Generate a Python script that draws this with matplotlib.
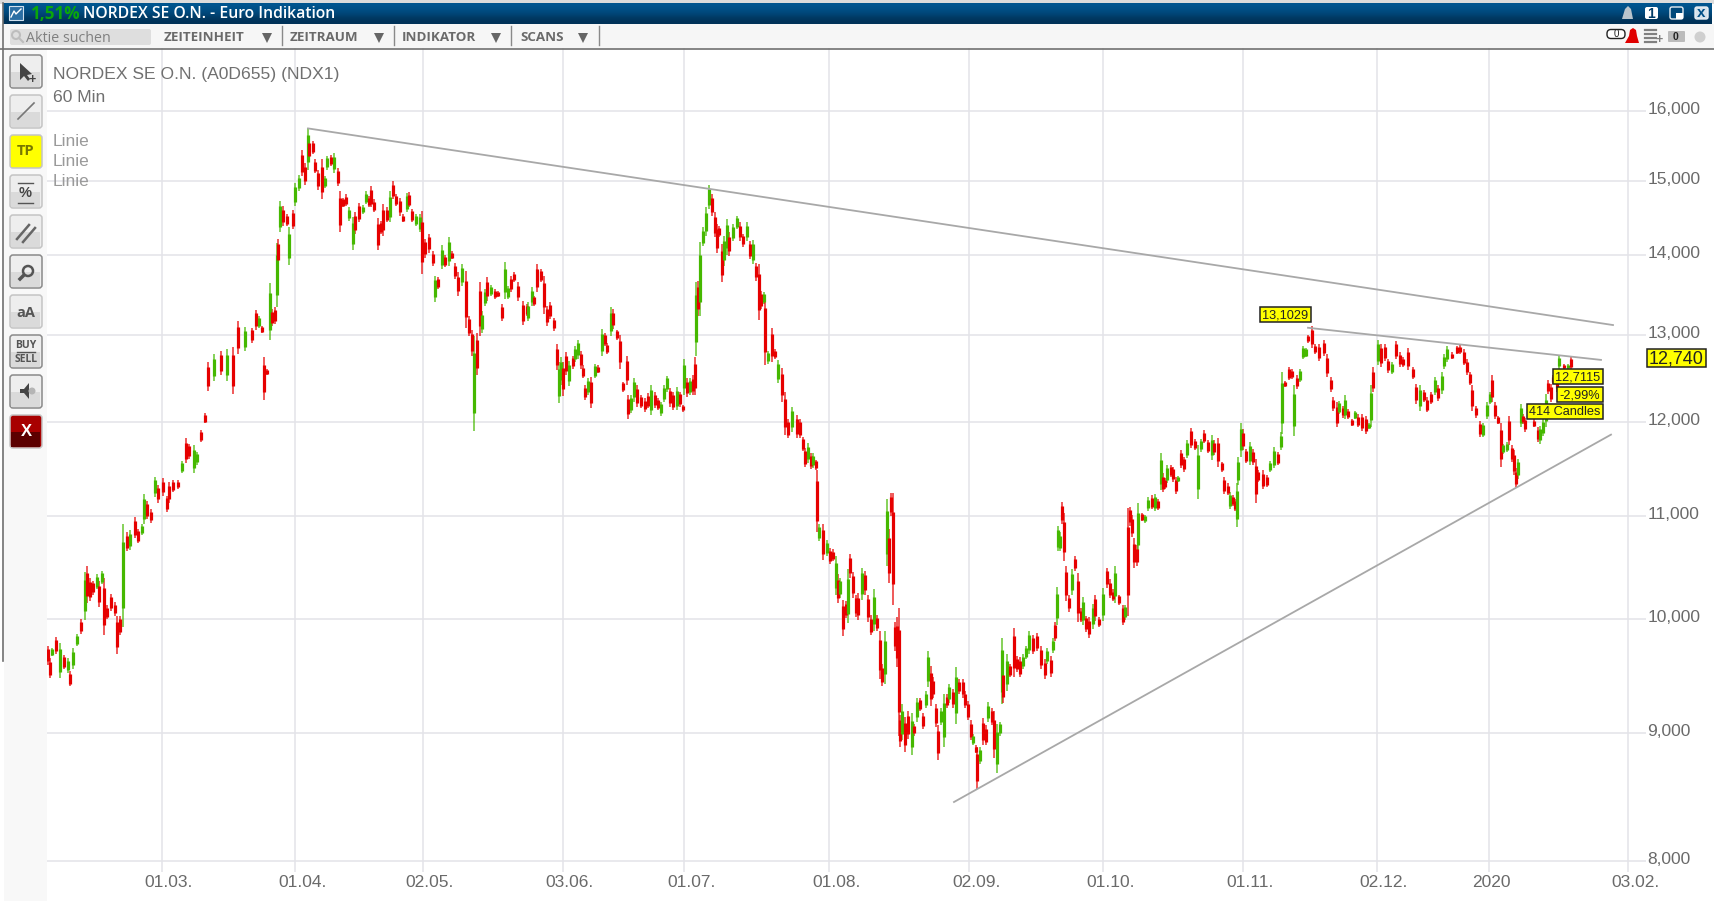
import matplotlib
matplotlib.use("Agg")
import matplotlib.pyplot as plt
import numpy as np
from matplotlib.patches import Rectangle, FancyBboxPatch, Polygon, Circle
from matplotlib.ticker import NullLocator
from matplotlib.transforms import ScaledTranslation

plt.rcParams["font.family"] = ["Liberation Sans", "DejaVu Sans"]

# chart values, x is the candle slot along the trading axis, y is the price
a_slot = [1, 3, 5, 9, 13, 17, 21, 23, 26, 30, 34, 38, 40, 43, 46, 50, 52, 55, 57, 60, 64, 68, 70, 73, 76, 80, 83, 88, 91, 95, 97, 100, 104, 108, 111, 116, 120, 122, 126, 131, 135, 139, 142, 147, 150, 154, 158]
a_low = [9590, 9470, 9665, 9686, 9470, 9550, 9520, 9400, 9550, 9754, 9870, 9990, 10152, 10170, 10232, 10280, 10115, 10328, 9856, 10003, 10080, 10035, 9686, 9856, 9930, 10648, 10664, 10776, 10728, 10808, 10920, 10968, 10936, 11195, 11140, 11212, 11042, 11140, 11247, 11283, 11443, 11549, 11602, 11443, 11538, 11780, 11985]
a_high = [9755, 9650, 9740, 9840, 9783, 9680, 9650, 9534, 9740, 9870, 10000, 10450, 10504, 10392, 10360, 10424, 10360, 10456, 10392, 10130, 10240, 10160, 10035, 10035, 10920, 10840, 10856, 10994, 10872, 10920, 11230, 11160, 11070, 11408, 11318, 11390, 11212, 11354, 11372, 11372, 11574, 11822, 11762, 11745, 11673, 11915, 12100]
a_up = [0, 0, 1, 0, 1, 0, 1, 0, 1, 1, 0, 1, 0, 0, 0, 1, 0, 1, 0, 0, 0, 0, 0, 0, 1, 0, 1, 0, 0, 1, 1, 0, 0, 1, 0, 0, 0, 0, 0, 0, 1, 0, 0, 1, 1, 0, 0]

b_slot = [161, 167, 174, 180, 186, 191, 198, 205, 209, 212, 215, 217, 220, 223, 225, 228, 230, 231, 233, 236, 240, 242, 246, 248, 252, 255, 258, 261, 262, 266, 268, 271, 275, 278, 280, 284, 287, 291, 293, 296, 299, 302, 306, 308, 312, 316, 319, 322, 324, 327, 331, 334, 336, 340, 343, 346, 349, 353, 356, 360, 362, 365, 369, 373, 375, 378, 382, 386, 388, 391, 395, 398, 402, 405, 408, 411, 415, 419, 422, 425, 427, 430, 433, 435, 438, 440, 444, 448, 451, 455, 458, 461, 464, 467, 471, 476, 480]
b_low = [12345, 12460, 12530, 12460, 12310, 12780, 12815, 12912, 13070, 13092, 13028, 12244, 12530, 12943, 13112, 13133, 13342, 13883, 14300, 14387, 14387, 13870, 14343, 14645, 14853, 15057, 14942, 15152, 15286, 15367, 15105, 14876, 14742, 14898, 15152, 15200, 15105, 14920, 14298, 14631, 14645, 14454, 14067, 14276, 14432, 14543, 14676, 14631, 14631, 14565, 14062, 14276, 14245, 14432, 14432, 14742, 14654, 14520, 14432, 14565, 14631, 14432, 14387, 14298, 13758, 13966, 14031, 13862, 13412, 13570, 13820, 13842, 13862, 13946, 13696, 13487, 13612, 13092, 12990, 12760, 11900, 12530, 12990, 13030, 13362, 13425, 13487, 13445, 13466, 13175, 13445, 13445, 13529, 13654, 13425, 13120, 13238]
b_high = [12690, 12780, 12815, 12840, 12860, 13175, 13100, 13092, 13312, 13237, 13112, 12740, 12606, 13646, 13320, 13342, 14155, 14209, 14720, 14645, 14543, 14365, 14600, 14964, 15080, 15430, 15248, 15748, 15580, 15557, 15295, 15152, 15295, 15057, 15343, 15352, 15381, 15176, 14853, 14765, 14809, 14631, 14498, 14565, 14698, 14662, 14853, 14787, 14920, 14742, 14485, 14454, 14680, 14631, 14853, 14987, 14809, 14765, 14543, 14831, 14840, 14610, 14543, 14543, 14587, 14209, 14276, 14053, 13737, 13716, 14129, 14008, 14232, 14053, 13904, 13779, 13883, 13800, 13238, 13071, 12990, 13030, 13663, 13300, 13570, 13716, 13625, 13570, 13550, 13383, 13912, 13612, 13737, 13779, 13654, 13425, 13383]
b_up = [0, 1, 0, 1, 0, 0, 1, 0, 0, 1, 0, 0, 0, 1, 0, 0, 1, 0, 1, 0, 0, 1, 0, 1, 1, 0, 0, 1, 0, 0, 0, 0, 0, 1, 1, 0, 1, 0, 0, 0, 0, 1, 1, 0, 0, 1, 1, 0, 0, 0, 0, 0, 0, 0, 1, 0, 0, 0, 0, 1, 0, 0, 1, 1, 0, 0, 0, 0, 1, 0, 1, 0, 1, 0, 0, 0, 1, 0, 0, 0, 1, 0, 0, 1, 1, 0, 1, 0, 0, 0, 1, 1, 0, 0, 0, 0, 0]

c_slot = [481, 485, 487, 490, 494, 497, 500, 503, 507, 510, 512, 514, 516, 519, 522, 526, 528, 531, 534, 536, 538, 541, 544, 548, 551, 555, 558, 560, 564, 566, 570, 573, 576, 580, 581, 584, 587, 590, 594, 598, 601, 604, 608, 611, 614, 617, 620, 623, 626, 630, 633, 636, 637, 640, 643, 646, 648, 649, 651, 653, 656, 659, 662, 665, 668, 670, 672, 675, 677, 680, 682, 686, 690, 693, 696, 700, 703, 706, 709, 712, 714, 717, 718, 721, 725, 728, 731, 735, 738, 741, 745, 750]
c_low = [13174, 13362, 13362, 13529, 13654, 13258, 13112, 13195, 13058, 12590, 12210, 12419, 12297, 12530, 12410, 12608, 12685, 12723, 12608, 12495, 12248, 12305, 12153, 12495, 12552, 12760, 12875, 12780, 12988, 13079, 12943, 12608, 12343, 12419, 12038, 12095, 12229, 12172, 12153, 12115, 12153, 12077, 12153, 12134, 12069, 12229, 12343, 12172, 12134, 12134, 12172, 12115, 12305, 12286, 12305, 12305, 12305, 12760, 13237, 13237, 14119, 14254, 14609, 14520, 14232, 14031, 14232, 13654, 13862, 14009, 13996, 14187, 14343, 14187, 14112, 14187, 13946, 13883, 13675, 13187, 13320, 13383, 12647, 12666, 12685, 12723, 12438, 12229, 11858, 11823, 11893, 11823]
c_high = [13404, 13591, 13487, 13883, 13821, 13737, 13362, 13412, 13216, 12893, 12685, 12742, 12685, 12800, 12700, 12760, 12875, 12943, 12818, 12647, 12419, 12495, 12514, 12666, 12647, 13079, 13029, 12913, 13341, 13320, 13071, 13008, 12457, 12760, 12305, 12305, 12503, 12419, 12305, 12267, 12324, 12419, 12343, 12267, 12229, 12419, 12526, 12381, 12343, 12400, 12343, 12191, 12723, 12495, 12495, 12533, 12742, 13654, 13675, 14175, 14365, 14631, 14942, 14809, 14565, 14409, 14387, 14143, 14254, 14476, 14298, 14409, 14520, 14431, 14276, 14431, 14187, 14200, 13904, 13883, 13550, 13529, 13487, 12818, 13092, 12837, 12704, 12616, 12343, 12038, 12171, 12076]
c_up = [1, 1, 0, 0, 0, 0, 0, 0, 0, 0, 1, 1, 0, 0, 1, 0, 1, 1, 0, 0, 0, 1, 0, 1, 0, 1, 0, 0, 1, 0, 0, 0, 0, 0, 0, 1, 1, 0, 0, 0, 0, 1, 0, 0, 1, 1, 1, 0, 0, 1, 0, 0, 1, 0, 1, 0, 0, 1, 0, 1, 1, 1, 1, 0, 0, 0, 0, 0, 1, 1, 0, 1, 1, 0, 0, 1, 0, 1, 0, 0, 0, 1, 0, 1, 0, 0, 1, 0, 0, 0, 1, 0]

d_slot = [753, 756, 758, 761, 764, 766, 769, 770, 772, 776, 780, 783, 786, 789, 791, 793, 796, 799, 801, 803, 806, 809, 811, 815, 818, 821, 824, 827, 830, 833, 835, 838, 840, 842, 844, 846, 848, 850, 852, 853, 855, 858, 861, 865, 867, 870, 873, 876, 879, 881, 884, 886, 889, 891, 894, 897, 900, 902, 906, 909, 912, 916, 918, 921, 924, 926, 929, 930, 933, 936, 939, 941, 945, 947, 950, 953, 955, 956, 960, 963, 967, 970, 973, 976, 979, 982, 986, 990, 994, 998, 1000, 1004, 1006, 1008]
d_low = [11822, 11680, 11509, 11555, 11495, 11502, 11484, 10837, 10747, 10562, 10603, 10523, 10555, 10232, 10152, 10200, 9851, 10008, 9962, 10392, 10200, 10024, 9991, 10184, 10232, 9977, 9853, 9889, 9889, 9464, 9405, 9420, 10504, 10344, 11000, 10136, 9713, 9566, 8980, 8890, 8942, 8850, 8955, 8824, 8982, 9097, 9185, 9039, 9215, 9390, 9229, 9303, 9054, 8785, 9068, 8890, 9215, 9259, 9215, 9082, 9332, 9303, 9215, 9112, 8942, 8903, 8837, 8550, 8745, 8903, 8903, 9097, 9068, 8800, 8680, 8982, 9244, 9259, 9361, 9478, 9478, 9522, 9478, 9552, 9640, 9684, 9684, 9713, 9552, 9464, 9596, 9478, 9698, 9800]
d_high = [12036, 11840, 11715, 11769, 11662, 11662, 11590, 11484, 10923, 10923, 10763, 10683, 10667, 10600, 10424, 10392, 10184, 10168, 10472, 10622, 10450, 10232, 10248, 10488, 10456, 10232, 10038, 10280, 10038, 9889, 9596, 9889, 11176, 10872, 11240, 11240, 9977, 10022, 10108, 9156, 9244, 9141, 9185, 9170, 9082, 9303, 9303, 9170, 9361, 9713, 9581, 9478, 9244, 9068, 9215, 9332, 9332, 9420, 9376, 9566, 9464, 9464, 9361, 9273, 9112, 8995, 8903, 8890, 8890, 9126, 9068, 9265, 9215, 9185, 9082, 9097, 9830, 9552, 9684, 9596, 9924, 9669, 9654, 9684, 9757, 9889, 9859, 9874, 9757, 9640, 9742, 9669, 9830, 9977]
d_up = [0, 0, 0, 1, 0, 1, 0, 0, 1, 0, 1, 0, 0, 1, 0, 1, 0, 0, 1, 0, 0, 0, 0, 1, 0, 0, 0, 1, 0, 0, 0, 1, 1, 0, 0, 0, 0, 0, 0, 0, 1, 0, 0, 1, 0, 1, 0, 0, 1, 1, 0, 0, 0, 0, 1, 1, 0, 1, 0, 1, 0, 0, 0, 0, 0, 1, 0, 0, 1, 0, 0, 1, 0, 0, 1, 1, 1, 0, 1, 0, 0, 0, 0, 1, 1, 1, 0, 0, 0, 0, 1, 0, 1, 0]

e_slot = [1010, 1011, 1013, 1015, 1017, 1019, 1022, 1025, 1028, 1031, 1034, 1036, 1039, 1042, 1046, 1048, 1052, 1056, 1060, 1063, 1066, 1068, 1072, 1076, 1078, 1081, 1083, 1085, 1087, 1090, 1091, 1095, 1098, 1101, 1105, 1108, 1111, 1114, 1116, 1118, 1120, 1124, 1126, 1129, 1131, 1134, 1137, 1140, 1144, 1148, 1151, 1154, 1157, 1161, 1165, 1167, 1171, 1175, 1177, 1181, 1183, 1186, 1188, 1190, 1191, 1194]
e_low = [9947, 10648, 10648, 10920, 10552, 10168, 10072, 10232, 10456, 9974, 9974, 9944, 9886, 9827, 9915, 9988, 9930, 9988, 10296, 10200, 10168, 10152, 10136, 9944, 9997, 10035, 10904, 10792, 10488, 10504, 10616, 10952, 10936, 11053, 11071, 11053, 11064, 11266, 11249, 11285, 11338, 11409, 11356, 11231, 11356, 11498, 11462, 11605, 11712, 11694, 11178, 11676, 11765, 11658, 11587, 11640, 11516, 11462, 11231, 11213, 11071, 11106, 11053, 10895, 11320, 11623]
e_high = [10304, 10904, 10840, 11150, 11032, 10504, 10232, 10472, 10600, 10440, 10104, 10206, 10035, 10019, 10147, 10232, 10019, 10296, 10488, 10376, 10280, 10504, 10232, 10136, 10136, 11080, 11096, 11016, 10776, 10712, 11130, 11032, 11016, 11196, 11213, 11231, 11178, 11658, 11445, 11391, 11534, 11534, 11516, 11409, 11420, 11694, 11623, 11801, 11936, 11818, 11747, 11818, 11907, 11801, 11854, 11801, 11826, 11569, 11409, 11338, 11249, 11213, 11178, 11338, 11623, 11990]
e_up = [1, 1, 1, 0, 0, 0, 0, 1, 0, 0, 0, 1, 0, 0, 1, 0, 0, 1, 0, 0, 0, 1, 0, 0, 1, 0, 0, 0, 0, 0, 1, 0, 1, 1, 0, 1, 0, 1, 0, 0, 1, 0, 0, 0, 1, 0, 0, 1, 0, 0, 1, 1, 0, 0, 1, 0, 0, 0, 0, 0, 1, 0, 0, 1, 1, 1]

f_slot = [1196, 1199, 1203, 1206, 1209, 1211, 1216, 1220, 1223, 1227, 1231, 1234, 1235, 1238, 1242, 1245, 1247, 1250, 1253, 1256, 1259, 1261, 1265, 1268, 1272, 1277, 1280, 1284, 1286, 1290, 1292, 1296, 1298, 1301, 1305, 1308, 1311, 1315, 1319, 1322, 1324, 1326, 1331, 1334, 1338, 1341, 1345, 1349, 1353, 1356, 1361, 1366, 1369, 1373, 1377, 1380, 1384, 1388, 1391, 1395, 1397, 1400, 1405, 1410, 1413, 1417, 1420, 1423, 1425, 1429, 1433, 1436, 1440, 1443, 1445, 1448, 1451, 1454, 1456, 1460, 1462, 1465, 1467, 1469, 1471, 1474, 1476, 1478, 1487, 1491, 1493, 1496, 1499, 1501, 1504, 1506, 1510, 1512, 1517, 1521, 1524]
f_low = [11694, 11551, 11531, 11531, 11140, 11354, 11276, 11300, 11460, 11496, 11531, 11691, 11869, 12392, 12471, 12491, 11851, 12376, 12452, 12720, 12740, 12912, 12854, 12778, 12701, 12759, 12510, 12337, 12126, 11940, 12088, 12050, 12031, 12031, 11957, 12031, 11940, 11904, 11869, 11922, 11940, 12337, 12644, 12625, 12701, 12560, 12548, 12720, 12625, 12625, 12586, 12491, 12203, 12126, 12222, 12107, 12203, 12299, 12241, 12318, 12605, 12682, 12720, 12778, 12778, 12644, 12529, 12414, 12126, 12050, 11833, 11833, 12031, 12203, 12222, 12031, 11975, 11514, 11656, 11673, 11744, 11567, 11425, 11301, 11389, 11940, 11975, 11893, 11940, 11780, 11762, 11851, 11940, 12318, 12222, 12433, 12337, 12605, 12605, 12605, 12605]
f_high = [11925, 11709, 11780, 11709, 11602, 11478, 11478, 11425, 11574, 11727, 11673, 11886, 12563, 12468, 12625, 12605, 12414, 12529, 12605, 12874, 12854, 13008, 13113, 12893, 12893, 12943, 12778, 12510, 12280, 12222, 12241, 12184, 12299, 12146, 12031, 12126, 12088, 12088, 12069, 11993, 12414, 12625, 12950, 12893, 12893, 12720, 12682, 12931, 12797, 12740, 12854, 12625, 12433, 12414, 12357, 12280, 12337, 12510, 12414, 12567, 12778, 12874, 12797, 12874, 12881, 12835, 12720, 12567, 12414, 12184, 12011, 11993, 12222, 12337, 12529, 12222, 12069, 11993, 11762, 11780, 12069, 11744, 11691, 11496, 11602, 12203, 12088, 12050, 12031, 11940, 11957, 12031, 12318, 12471, 12433, 12529, 12605, 12766, 12663, 12663, 12751]
f_up = [0, 0, 1, 0, 0, 0, 0, 0, 1, 1, 0, 1, 1, 0, 0, 0, 1, 0, 1, 1, 1, 0, 0, 0, 0, 0, 0, 0, 0, 0, 1, 0, 1, 0, 0, 1, 0, 0, 0, 1, 1, 0, 1, 0, 0, 0, 1, 0, 0, 0, 0, 0, 0, 1, 0, 0, 0, 1, 0, 1, 1, 1, 0, 0, 0, 0, 0, 0, 0, 0, 0, 1, 1, 1, 0, 0, 0, 0, 1, 1, 0, 0, 0, 0, 1, 1, 0, 0, 0, 0, 1, 1, 1, 0, 0, 0, 0, 1, 0, 1, 0]

# hand drawn trend lines (start slot, end slot, start price, end price)
trend_slots = [[261, 1566], [1261, 1554], [907, 1564]]
trend_prices = [[15740, 13125], [13092, 12709], [8447, 11861]]

price_ticks = [8000, 9000, 10000, 11000, 12000, 13000, 14000, 15000, 16000]
price_labels = ["8,000", "9,000", "10,000", "11,000", "12,000", "13,000", "14,000", "15,000", "16,000"]
date_slots = [114.7, 248, 375.7, 515.7, 637, 782, 922, 1056, 1196, 1329.7, 1442, 1581]
date_labels = ["01.03.", "01.04.", "02.05.", "03.06.", "01.07.", "01.08.", "02.09.", "01.10.", "01.11.", "02.12.", "2020", "03.02."]

RED = "#e60000"
GREEN = "#45b800"
GRID = "#e3e3e8"
YELLOW = "#ffff00"
W, H = 1714, 901

fig = plt.figure(figsize=(W / 100, H / 100), dpi=100)
ax = fig.add_axes([47 / W, 1 - 872 / H, (1646 - 47) / W, (872 - 48) / H])

slots = np.array(a_slot + b_slot + c_slot + d_slot + e_slot + f_slot, dtype=float)
lows = np.array(a_low + b_low + c_low + d_low + e_low + f_low, dtype=float)
highs = np.array(a_high + b_high + c_high + d_high + e_high + f_high, dtype=float)
ups = a_up + b_up + c_up + d_up + e_up + f_up
colors = [GREEN if u else RED for u in ups]

ax.vlines(slots, lows, highs, colors=colors, linewidth=1.3, alpha=0.7, zorder=3)
ax.vlines(slots, lows + 0.18 * (highs - lows), highs - 0.18 * (highs - lows), colors=colors, linewidth=2.3, zorder=3)
for xs, ys in zip(trend_slots, trend_prices):
    ax.plot(xs, ys, color="#a8a8a8", linewidth=1.3, zorder=4)

ax.set_yscale("log")
ax.set_xlim(0, 1599)
ax.set_ylim(7918, 16954)
ax.yaxis.tick_right()
ax.yaxis.set_minor_locator(NullLocator())
ax.set_yticks(price_ticks)
ax.set_yticklabels(price_labels)
ax.set_xticks(date_slots)
ax.set_xticklabels(date_labels)
ax.tick_params(axis="both", length=0, labelsize=12.5, labelcolor="#6a6a6a")
ax.tick_params(axis="y", pad=1)
ax.tick_params(axis="x", pad=2)
for lbl in ax.get_xticklabels():
    lbl.set_ha("left")
    lbl.set_transform(lbl.get_transform() + ScaledTranslation(-0.17, 0, fig.dpi_scale_trans))
for lbl in ax.get_yticklabels():
    lbl.set_transform(lbl.get_transform() + ScaledTranslation(0, 0.03, fig.dpi_scale_trans))
ax.grid(True, color=GRID, linewidth=1.1)
ax.set_axisbelow(True)
for s in ax.spines.values():
    s.set_visible(False)

# window chrome and annotations, drawn in image pixel coordinates
ov = fig.add_axes([0, 0, 1, 1], zorder=5)
ov.set_xlim(0, W)
ov.set_ylim(H, 0)
ov.axis("off")
ov.patch.set_alpha(0)

ov.add_patch(Rectangle((0, 0), W, 4, fc="#dcdcdc", ec="none"))
shades = [(0, 85, 143), (0, 79, 134), (0, 70, 120), (0, 58, 100), (0, 50, 88)]
ov.imshow(np.array(shades, dtype=np.uint8)[:, None, :], extent=[3, W - 2, 24, 3], aspect="auto", interpolation="bilinear", zorder=1)
ov.set_xlim(0, W)
ov.set_ylim(H, 0)
ov.add_patch(Rectangle((0, 24), W, 24, fc="#f6f6f6", ec="none", zorder=1))
ov.plot([0, W], [48.5, 48.5], color="#707070", lw=1.2, zorder=2)
ov.add_patch(Rectangle((4, 49), 43, H - 49, fc="#f8f8f8", ec="none", zorder=1))
ov.plot([3, 3], [3, 661], color="#707070", lw=1.2, zorder=2)

# title bar
ov.add_patch(Rectangle((9, 6), 14, 14, fc="#2b6ea3", ec="#cfe0ee", lw=0.8, zorder=3))
ov.plot([11, 14, 16, 21], [17, 11, 14, 9], color="white", lw=1, zorder=4)
ov.text(30, 14, "1,51%", color="#0aa70a", fontsize=12.3, family="Open Sans", weight="bold", va="center", zorder=4)
ov.text(83, 14, "NORDEX SE O.N. - Euro Indikation", color="white", fontsize=11.3, family="Open Sans", weight="semibold", va="center", zorder=4)

# toolbar
ov.add_patch(FancyBboxPatch((10, 29), 141, 16, boxstyle="round,pad=0,rounding_size=2", fc="#dedede", ec="none", zorder=3))
ov.add_patch(Circle((16, 35), 4, fc="none", ec="#bdbdbd", lw=1.5, zorder=4))
ov.plot([19, 23], [38, 42], color="#bdbdbd", lw=1.5, zorder=4)
ov.text(26, 38, "Aktie suchen", color="#808080", fontsize=10.3, va="center", zorder=4, family="Open Sans")
menus = ["ZEITEINHEIT", "ZEITRAUM", "INDIKATOR", "SCANS"]
menu_x = [164, 290, 402, 520]
tri_x = [267, 379, 496, 583]
sep_x = [282, 394, 511, 599]
for name, mx, tx, sx in zip(menus, menu_x, tri_x, sep_x):
    ov.text(mx, 37.5, name, color="#6a6a6a", fontsize=9.6, family="Open Sans", weight="bold", va="center", zorder=4)
    ov.add_patch(Polygon([[tx - 5, 33], [tx + 5, 33], [tx, 43]], fc="#666666", ec="none", zorder=4))
    ov.plot([sx, sx], [26, 45], color="#8a8a8a", lw=1, zorder=4)

# window buttons at the right
ov.add_patch(Polygon([[1622, 19], [1625, 9], [1628, 6], [1631, 9], [1633, 19]], fc="#b9c4cc", ec="none", zorder=4))
ov.add_patch(FancyBboxPatch((1645, 7), 13, 12, boxstyle="round,pad=0,rounding_size=2", fc="white", ec="none", zorder=4))
ov.text(1651.5, 13.5, "1", color="#003b66", fontsize=10, weight="bold", ha="center", va="center", zorder=5)
ov.add_patch(FancyBboxPatch((1670, 7), 13, 12, boxstyle="round,pad=0,rounding_size=2", fc="#00487a", ec="#e8eef3", lw=1, zorder=4))
ov.add_patch(Rectangle((1676, 13), 7, 6, fc="white", ec="none", zorder=5))
ov.add_patch(FancyBboxPatch((1695, 7), 13, 12, boxstyle="round,pad=0,rounding_size=2", fc="#d5e2ec", ec="#e8eef3", lw=1, zorder=4))
ov.text(1701.5, 13, "x", color="#004f86", fontsize=11, weight="bold", ha="center", va="center", zorder=5)
ov.add_patch(FancyBboxPatch((1607, 29.5), 18, 9, boxstyle="round,pad=0,rounding_size=4", fc="white", ec="#222222", lw=1, zorder=4))
ov.text(1616, 34, "0", color="#222222", fontsize=7, ha="center", va="center", zorder=5)
ov.add_patch(Polygon([[1625, 43], [1629, 36], [1630, 30], [1633, 28], [1636, 30], [1637, 36], [1639, 43]], fc="#e00000", ec="none", zorder=4))
for yy in [30, 34, 38, 42]:
    ov.plot([1645, 1656], [yy, yy], color="#808080", lw=1.6, zorder=4)
ov.text(1659, 40, "+", color="#808080", fontsize=9, weight="bold", ha="center", va="center", zorder=4)
ov.add_patch(FancyBboxPatch((1668, 31), 17, 11, boxstyle="round,pad=0,rounding_size=1", fc="#bbbbbb", ec="none", zorder=4))
ov.text(1676, 36.5, "0", color="#222222", fontsize=7.5, weight="bold", ha="center", va="center", zorder=5)
ov.add_patch(Circle((1700, 37), 5.5, fc="#cfcfcf", ec="none", zorder=4))

# left tool buttons
button_y = [55, 95, 135, 175, 215, 255, 295, 335, 375, 415]
for i, by in enumerate(button_y):
    top, low = "#eeeeee", "#dadada"
    if i == 2:
        top, low = YELLOW, YELLOW
    if i == 9:
        top, low = "#a80000", "#5c0000"
    ov.add_patch(FancyBboxPatch((10, by), 32, 33, boxstyle="round,pad=0,rounding_size=3", fc=top, ec="#8a8a8a" if i in (0, 5, 7, 8) else "#c4c4c4", lw=1.1, zorder=3))
    ov.add_patch(Rectangle((11.5, by + 17), 29, 14.5, fc=low, ec="none", zorder=3))
ov.add_patch(Polygon([[20, 63], [20, 80], [24, 76], [28, 81], [30, 79], [27, 75], [32, 74]], fc="#444444", ec="none", zorder=4))
ov.text(32, 80, "+", color="#444444", fontsize=9, weight="bold", ha="center", va="center", zorder=4)
ov.plot([18, 34], [119, 103], color="#777777", lw=1.2, zorder=4)
ov.text(26, 151, "TP", color="#777700", fontsize=10.5, weight="bold", ha="center", va="center", zorder=4, family="Open Sans")
ov.plot([18, 33], [183, 183], color="#555555", lw=1, zorder=4)
ov.plot([18, 33], [203, 203], color="#555555", lw=1, zorder=4)
ov.text(25.5, 193, "%", color="#444444", fontsize=10.5, weight="bold", ha="center", va="center", zorder=4)
ov.plot([17, 29], [239, 225], color="#666666", lw=1.8, zorder=4)
ov.plot([23, 35], [242, 228], color="#666666", lw=1.8, zorder=4)
ov.add_patch(Circle((28, 271), 5, fc="none", ec="#555555", lw=1.8, zorder=4))
ov.plot([24, 20], [275, 279], color="#555555", lw=2.5, zorder=4)
ov.text(26, 313, "aA", color="#555555", fontsize=10.5, weight="bold", ha="center", va="center", zorder=4, family="Open Sans")
ov.text(26, 346, "BUY", color="#555555", fontsize=7.5, weight="bold", ha="center", va="center", zorder=4, family="Open Sans")
ov.plot([17, 35], [352, 352], color="#555555", lw=1, zorder=4)
ov.text(26, 359, "SELL", color="#555555", fontsize=7.5, weight="bold", ha="center", va="center", zorder=4, family="Open Sans")
ov.add_patch(Polygon([[20, 389], [24, 389], [29, 383], [29, 399], [24, 393], [20, 393]], fc="#444444", ec="none", zorder=4))
ov.add_patch(Circle((32, 391), 3.5, fc="#b5b5b5", ec="none", zorder=4))
ov.text(26, 432, "X", color="white", fontsize=12, weight="bold", ha="center", va="center", zorder=4)

# heading in the chart
ov.text(53, 75, "NORDEX SE O.N. (A0D655) (NDX1)", color="#707070", fontsize=12.6, va="center", zorder=4)
ov.text(53, 97, "60 Min", color="#707070", fontsize=12.6, va="center", zorder=4)
for yy in [141, 161, 181]:
    ov.text(53, yy, "Linie", color="#9a9a9a", fontsize=12.5, va="center", zorder=4)


def flag(x0, x1, y0, y1, text, size=9.2):
    ov.add_patch(Rectangle((x0, y0), x1 - x0, y1 - y0, fc=YELLOW, ec="#222222", lw=1.1, zorder=6))
    ov.text((x0 + x1) / 2, (y0 + y1) / 2 + 0.5, text, color="#222222", fontsize=size, ha="center", va="center", zorder=7)


flag(1260, 1311, 307, 322, "13,1029")
flag(1553, 1603, 369, 384, "12,7115")
flag(1557, 1603, 387, 402, "-2,99%")
flag(1527, 1603, 404, 419, "414 Candles")
flag(1647, 1706, 349, 367, "12,740", size=13)

fig.savefig("out.png", dpi=100)
